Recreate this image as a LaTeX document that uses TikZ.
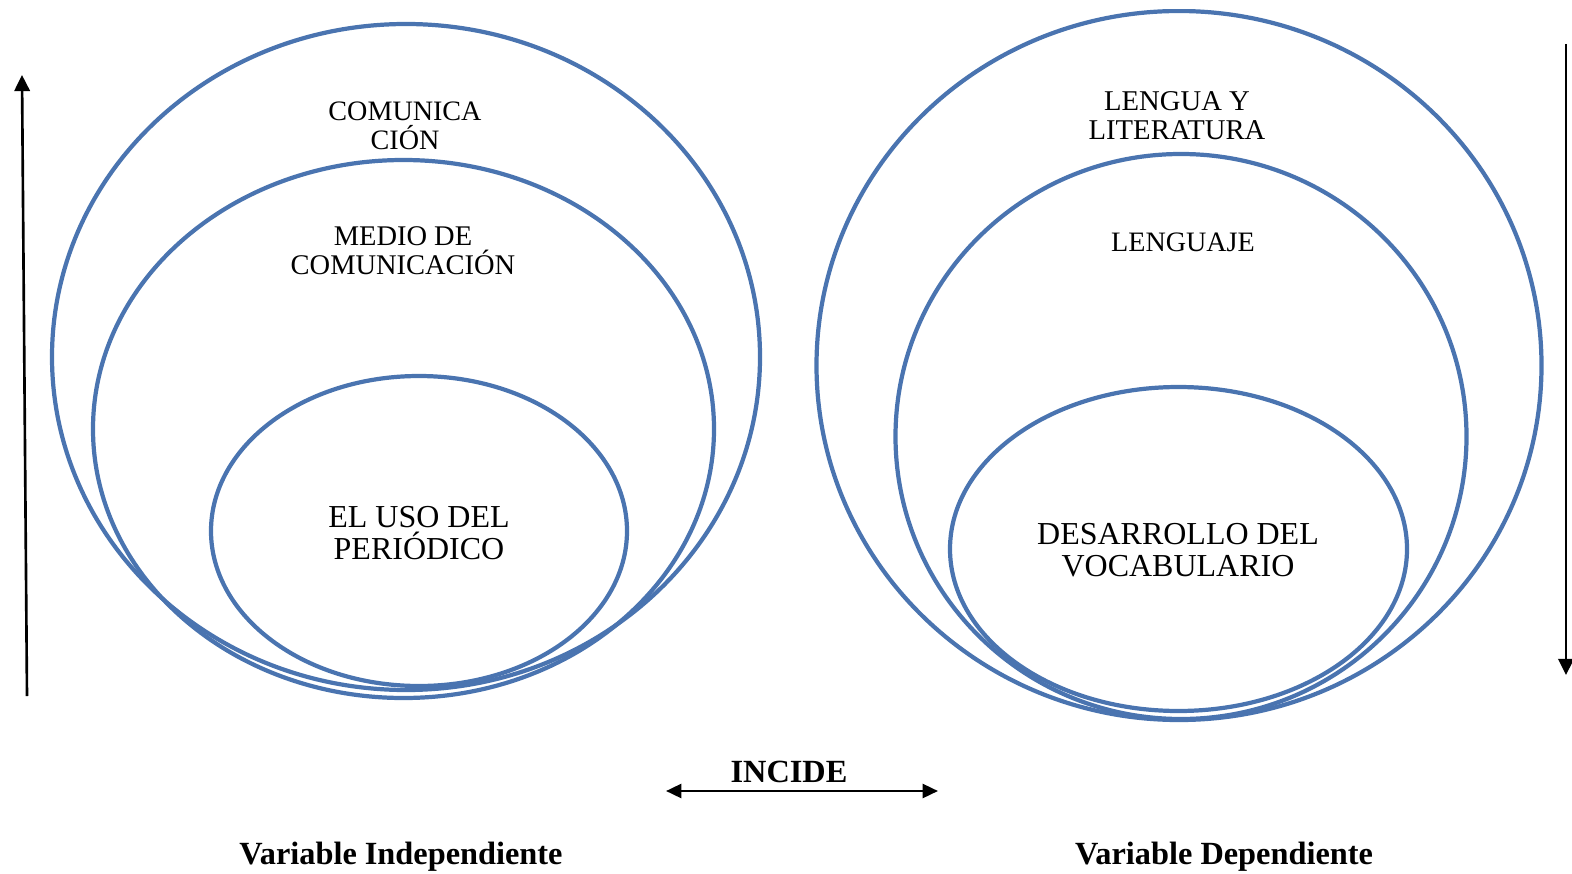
\documentclass[tikz,border=0pt]{standalone}
\usepackage{fontspec}
\setmainfont{Liberation Serif}
\usetikzlibrary{arrows.meta}

\definecolor{setblue}{RGB}{74,116,176}

\begin{document}
\begin{tikzpicture}[x=0.1mm, y=-0.1mm,
    set/.style={draw=setblue, line width=1.2pt},
    label/.style={align=center, inner sep=0pt, font=\fontsize{8}{8.3}\selectfont},
    title/.style={inner sep=0pt, font=\fontsize{9.2}{10}\selectfont\bfseries},
    axis/.style={line width=0.75pt, -{Triangle[length=4.6pt, width=4.4pt]}}]

    \useasboundingbox (0,0) rectangle (1572,874);

    %% Variable independiente
    \begin{scope}
        % Sets
        \draw[set] (406,357) ellipse (354 and 333);
        \draw[set] (403.5,429) ellipse (310.5 and 269);
        \draw[set] (419,531) ellipse (208 and 155);

        % Labels
        \node[label] (comunicacion) at (405,126) {COMUNICA\\CIÓN};
        \node[label, font=\fontsize{8.1}{8.2}\selectfont] (medio) at (403,251) {MEDIO DE\\COMUNICACIÓN};
        \node[label, font=\fontsize{9.1}{9.2}\selectfont] (periodico) at (419,533) {EL USO DEL\\PERIÓDICO};

        % Upward arrow
        \coordinate (upstart) at (27,696);
        \coordinate (upend) at (22,75);
        \draw[axis] (upstart) -- (upend);
    \end{scope}

    %% Variable dependiente
    \begin{scope}
        % Sets
        \begin{scope}
            \clip (0,10) rectangle (1572,874);
            \draw[set] (1179,365.5) ellipse (362.5 and 354.5);
        \end{scope}
        \draw[set] (1181,436.5) ellipse (285.5 and 282.5);
        \draw[set] (1178.5,549) ellipse (228.5 and 162);

        % Labels
        \node[label, font=\fontsize{8.15}{8.3}\selectfont] (literatura) at (1177,116) {LENGUA Y\\LITERATURA};
        \node[label] (lenguaje) at (1183,242) {LENGUAJE};
        \node[label, font=\fontsize{9.1}{9.3}\selectfont] (vocabulario) at (1178,550) {DESARROLLO DEL\\VOCABULARIO};

        % Downward arrow
        \coordinate (downstart) at (1566,44);
        \coordinate (downend) at (1566,675);
        \draw[axis] (downstart) -- (downend);
    \end{scope}

    % Relation
    \node[title] (incide) at (789,772) {INCIDE};
    \coordinate (leftend) at (666,791);
    \coordinate (rightend) at (938,791);
    \draw[axis, {Triangle[length=4.4pt, width=4pt]}-{Triangle[length=4.4pt, width=4pt]}] (leftend) -- (rightend);

    % Captions
    \node[title] (independiente) at (401,857) {Variable Independiente};
    \node[title] (dependiente) at (1224,857) {Variable Dependiente};

\end{tikzpicture}
\end{document}
